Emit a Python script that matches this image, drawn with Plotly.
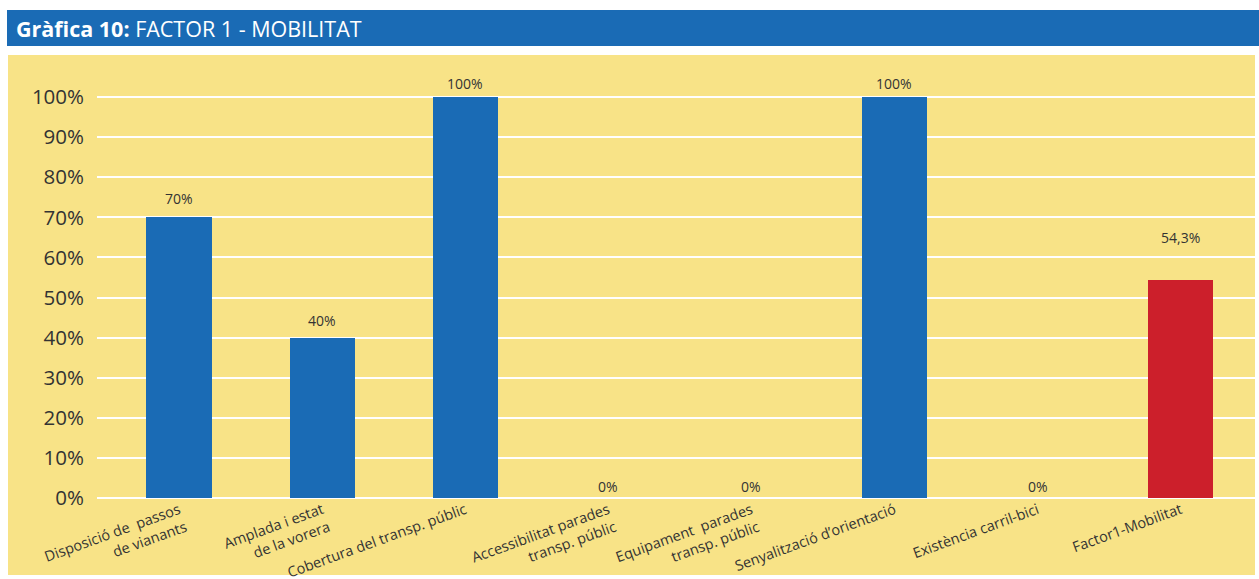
import plotly.graph_objects as go

# Factor 1 - Mobilitat: percentages per indicator
categories = [
    "Disposició de  passos<br>de vianants",
    "Amplada i estat<br>de la vorera",
    "Cobertura del transp. públic",
    "Accessibilitat parades<br>transp. públic",
    "Equipament  parades<br>transp. públic",
    "Senyalització d’orientació",
    "Existència carril-bici",
    "Factor1-Mobilitat",
]
values = [70, 40, 100, 0, 0, 100, 0, 54.3]
y_ticks = [0, 10, 20, 30, 40, 50, 60, 70, 80, 90, 100]

BLUE = "#1a6bb5"
RED = "#cc1f2b"
YELLOW = "#f8e387"
TEXT = "#333333"
FONT = "Open Sans, Noto Sans, sans-serif"

W, H = 1259, 579
# plot area in pixels
L, R, T, B = 97, 1255, 57, 498

def px_x(x):
    return (x - L) / (R - L)

def px_y(y):
    return (B - y) / (B - T)

colors = [BLUE] * (len(values) - 1) + [RED]
labels = [f"{v:g}".replace(".", ",") + "%" for v in values]
label_gap = [19, 17, 14, 12, 12, 14, 12, 43]

fig = go.Figure()
fig.add_trace(go.Bar(
    x=list(range(len(categories))),
    y=values,
    marker=dict(color=colors, line=dict(width=0)),
    width=0.455,
    hoverinfo="skip",
))

annotations = []
for i, (v, t, g) in enumerate(zip(values, labels, label_gap)):
    annotations.append(dict(
        x=i, y=v, xref="x", yref="y", text=t, showarrow=False,
        yanchor="middle", yshift=g,
        font=dict(family=FONT, size=14, color=TEXT),
    ))

# title text
annotations.append(dict(
    x=px_x(14), y=px_y(28), xref="paper", yref="paper",
    xanchor="left", yanchor="middle", showarrow=False,
    text="<b>Gràfica 10:</b> FACTOR 1 - MOBILITAT",
    font=dict(family=FONT, size=21.5, color="white"),
))

shapes = [
    # yellow panel
    dict(type="rect", xref="paper", yref="paper", layer="below",
         x0=px_x(8), x1=px_x(1255), y0=px_y(575), y1=px_y(55),
         fillcolor=YELLOW, line=dict(width=0)),
    # title bar
    dict(type="rect", xref="paper", yref="paper", layer="below",
         x0=px_x(7), x1=px_x(1259), y0=px_y(46), y1=px_y(10),
         fillcolor=BLUE, line=dict(width=0)),
]

fig.update_layout(
    width=W, height=H,
    margin=dict(l=L, r=W - R, t=T, b=H - B, pad=0, autoexpand=False),
    paper_bgcolor="white",
    plot_bgcolor=YELLOW,
    showlegend=False,
    bargap=0,
    annotations=annotations,
    shapes=shapes,
    font=dict(family=FONT, color=TEXT),
    xaxis=dict(
        range=[-0.573, 7.52],
        tickmode="array",
        tickvals=list(range(len(categories))),
        ticktext=categories,
        tickangle=-20,
        tickfont=dict(family=FONT, size=14.5, color=TEXT),
        showgrid=False, zeroline=False, showline=False, ticks="",
        automargin=False,
        fixedrange=True,
    ),
    yaxis=dict(
        range=[0, 110],
        tickmode="array",
        tickvals=y_ticks,
        ticktext=[f"{t}%" for t in y_ticks],
        tickfont=dict(family=FONT, size=20.5, color=TEXT),
        showgrid=True, gridcolor="white", gridwidth=1.5,
        zeroline=True, zerolinecolor="white", zerolinewidth=2,
        showline=False, ticks="", ticklabelstandoff=12,
        automargin=False,
        fixedrange=True,
    ),
)

fig.write_html("out.html", config={"displayModeBar": False})
